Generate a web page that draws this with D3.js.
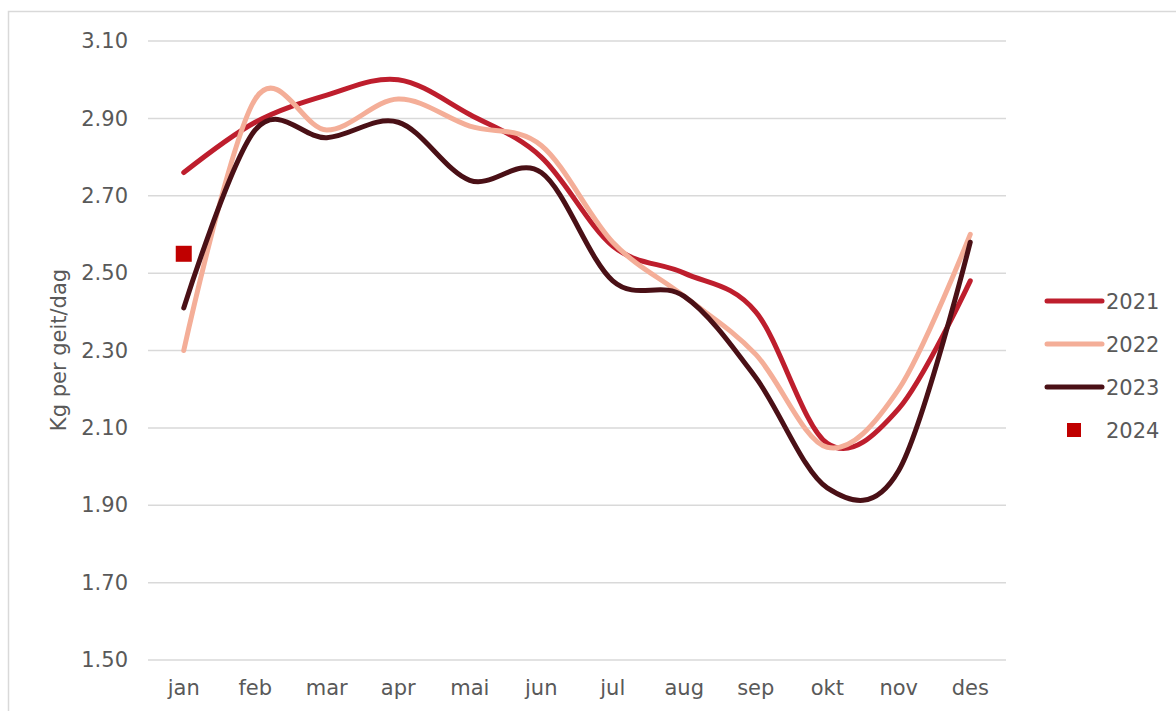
<!DOCTYPE html>
<html>
<head>
<meta charset="utf-8">
<script src="https://cdn.jsdelivr.net/npm/d3@7"></script>
<style>
  body { margin: 0; background: #fff; }
  svg text { font-family: "DejaVu Sans", sans-serif; fill: #595959; }
</style>
</head>
<body>
<script>
// months on the x axis
var months = ["jan", "feb", "mar", "apr", "mai", "jun", "jul", "aug", "sep", "okt", "nov", "des"];

// kg per goat per day
var v2021 = [2.76, 2.89, 2.96, 3.00, 2.91, 2.80, 2.57, 2.50, 2.40, 2.06, 2.15, 2.48];
var v2022 = [2.30, 2.95, 2.87, 2.95, 2.88, 2.83, 2.58, 2.44, 2.29, 2.05, 2.20, 2.60];
var v2023 = [2.41, 2.87, 2.85, 2.89, 2.74, 2.76, 2.48, 2.44, 2.23, 1.945, 1.99, 2.58];
var v2024 = [2.55];

var yTicks = [1.50, 1.70, 1.90, 2.10, 2.30, 2.50, 2.70, 2.90, 3.10];

var series = [
    {name: "2021", values: v2021, color: "#BE1E2D"},
    {name: "2022", values: v2022, color: "#F4AE98"},
    {name: "2023", values: v2023, color: "#4A1016"}
];

var width = 1176,
    height = 711;

var svg = d3.select("body")
    .append("svg")
    .attr("width", width)
    .attr("height", height);

//chart frame
svg.append("rect")
    .attr("x", 8.5)
    .attr("y", 11.5)
    .attr("width", 1300)
    .attr("height", 800)
    .attr("fill", "none")
    .attr("stroke", "#d9d9d9")
    .attr("stroke-width", 1.5);

var x = d3.scaleBand()
    .domain(months)
    .range([148, 1006]);

var y = d3.scaleLinear()
    .domain([1.5, 3.1])
    .range([660, 41]);

//gridlines
svg.selectAll(".grid")
    .data(yTicks)
    .enter()
    .append("line")
    .attr("class", "grid")
    .attr("x1", 148)
    .attr("x2", 1006)
    .attr("y1", function(d){ return y(d); })
    .attr("y2", function(d){ return y(d); })
    .attr("stroke", "#d9d9d9")
    .attr("stroke-width", 1.5);

//y axis labels
var yAxis = d3.axisLeft(y)
    .tickValues(yTicks)
    .tickFormat(d3.format(".2f"))
    .tickSize(0)
    .tickPadding(20);

var yg = svg.append("g")
    .attr("transform", "translate(148,0)")
    .call(yAxis);
yg.select(".domain").remove();
yg.selectAll("text")
    .style("font-size", "21px")
    .style("font-family", "DejaVu Sans, sans-serif")
    .attr("fill", "#595959");

//x axis labels
var xAxis = d3.axisBottom(x).tickSize(0).tickPadding(20);
var xg = svg.append("g")
    .attr("transform", "translate(0,660)")
    .call(xAxis);
xg.select(".domain").remove();
xg.selectAll("text")
    .style("font-size", "21px")
    .style("font-family", "DejaVu Sans, sans-serif")
    .attr("fill", "#595959");

//axis title
svg.append("text")
    .attr("transform", "translate(66,350) rotate(-90)")
    .attr("text-anchor", "middle")
    .style("font-size", "21px")
    .text("Kg per geit/dag");

var line = d3.line()
    .x(function(d, i){ return x(months[i]) + x.bandwidth() / 2; })
    .y(function(d){ return y(d); })
    .curve(d3.curveCatmullRom.alpha(0));

svg.selectAll(".series")
    .data(series)
    .enter()
    .append("path")
    .attr("class", "series")
    .attr("d", function(d){ return line(d.values); })
    .attr("fill", "none")
    .attr("stroke", function(d){ return d.color; })
    .attr("stroke-width", 5)
    .attr("stroke-linecap", "round")
    .attr("stroke-linejoin", "round");

//2024 marker
svg.selectAll(".p2024")
    .data(v2024)
    .enter()
    .append("rect")
    .attr("class", "p2024")
    .attr("x", function(d, i){ return x(months[i]) + x.bandwidth() / 2 - 8; })
    .attr("y", function(d){ return y(d) - 8; })
    .attr("width", 16)
    .attr("height", 16)
    .attr("fill", "#C00000");

//legend
var legend = svg.append("g").attr("transform", "translate(1047,301)");
series.forEach(function(s, i){
    legend.append("line")
        .attr("x1", 0).attr("x2", 55)
        .attr("y1", i * 43).attr("y2", i * 43)
        .attr("stroke", s.color)
        .attr("stroke-width", 5)
        .attr("stroke-linecap", "round");
    legend.append("text")
        .attr("x", 59)
        .attr("y", i * 43)
        .attr("dy", "0.36em")
        .style("font-size", "21px")
        .text(s.name);
});
legend.append("rect")
    .attr("x", 20).attr("y", 3 * 43 - 7)
    .attr("width", 14).attr("height", 14)
    .attr("fill", "#C00000");
legend.append("text")
    .attr("x", 59)
    .attr("y", 3 * 43)
    .attr("dy", "0.36em")
    .style("font-size", "21px")
    .text("2024");
</script>
</body>
</html>
